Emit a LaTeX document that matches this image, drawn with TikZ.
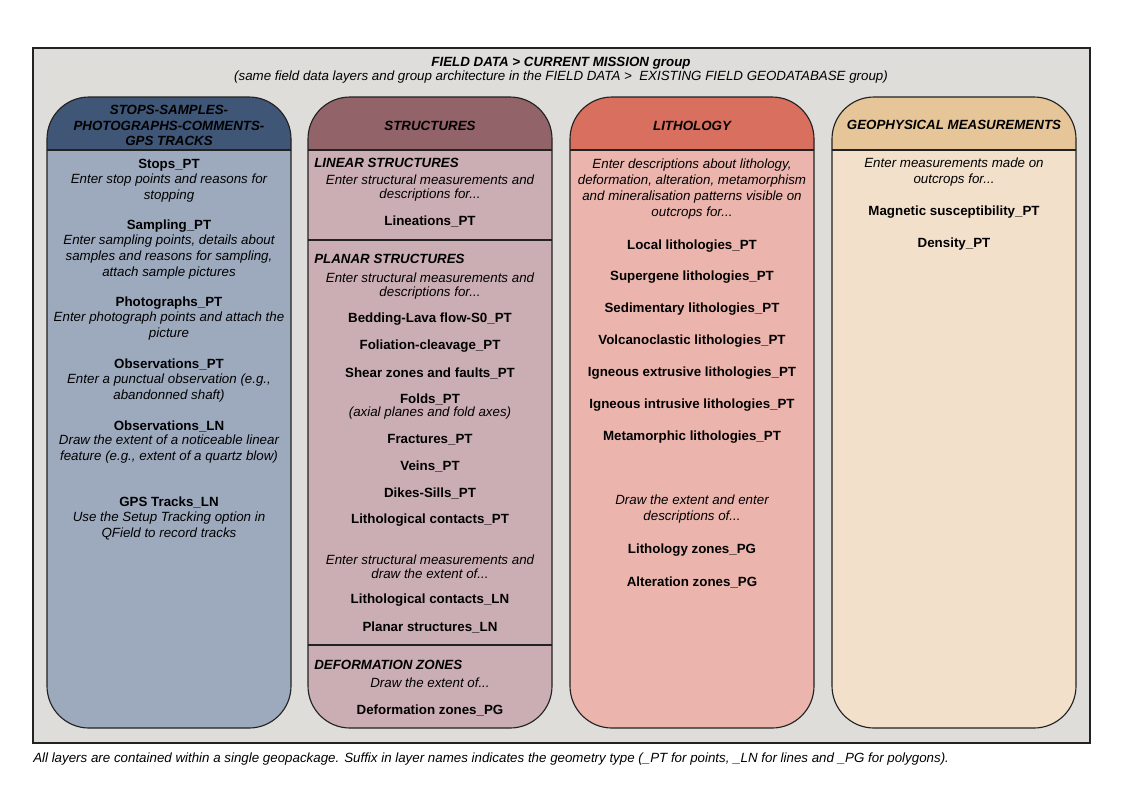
\documentclass[tikz,border=0pt]{standalone}
\usepackage{fontspec}
\setmainfont{Liberation Sans}
\usetikzlibrary{positioning}
\definecolor{bgGray}{HTML}{DEDDDA}
\definecolor{stopsHead}{HTML}{3F5677}
\definecolor{stopsBody}{HTML}{9DAABE}
\definecolor{strucHead}{HTML}{93636A}
\definecolor{strucBody}{HTML}{CBAEB3}
\definecolor{lithoHead}{HTML}{D96F5F}
\definecolor{lithoBody}{HTML}{EBB5AD}
\definecolor{geophHead}{HTML}{E6C598}
\definecolor{geophBody}{HTML}{F3E0CB}
\definecolor{lineDark}{HTML}{222222}

\begin{document}
\begin{tikzpicture}[
    x=0.75pt, y=-0.75pt,
    every node/.append style={yshift=-1.5pt},
    layer/.style={font=\fontsize{10}{12}\selectfont\bfseries, inner sep=0pt},
    desc/.style={font=\fontsize{10}{12}\selectfont\itshape, align=center, inner sep=0pt},
    desctight/.style={font=\fontsize{10}{10.3}\selectfont\itshape, align=center, inner sep=0pt},
    head/.style={font=\fontsize{10}{11.4}\selectfont\bfseries\itshape, align=center, inner sep=0pt},
    sect/.style={font=\fontsize{10}{12}\selectfont\bfseries\itshape, anchor=west, inner sep=0pt},
    colframe/.style={draw=lineDark, line width=0.85pt, rounded corners=31.5pt},
]
\useasboundingbox (0,0) rectangle (1123,794);

% outer frame
\draw[fill=bgGray, draw=lineDark, line width=0.8pt] (33,48) rectangle (1090,743);
\node[font=\fontsize{10}{10.5}\selectfont\bfseries\itshape, inner sep=0pt] (title) at (561,61)
    {FIELD DATA > CURRENT MISSION group};
\node[font=\fontsize{10}{10.5}\selectfont\itshape, inner sep=0pt] (subtitle) at (561,75)
    {(same field data layers and group architecture in the FIELD DATA >\ \ EXISTING FIELD GEODATABASE group)};

% four columns
\foreach \xa/\hc/\bc in {47/stopsHead/stopsBody, 308/strucHead/strucBody,
                         570/lithoHead/lithoBody, 832/geophHead/geophBody} {
  \fill[\bc, rounded corners=31.5pt] (\xa,97) rectangle (\xa+244,728);
  \begin{scope}
    \clip (\xa,90) rectangle (\xa+244,150);
    \fill[\hc, rounded corners=31.5pt] (\xa,97) rectangle (\xa+244,728);
  \end{scope}
  \draw[lineDark, line width=0.85pt] (\xa,150) -- (\xa+244,150);
  \draw[colframe] (\xa,97) rectangle (\xa+244,728);
}
% structures separators
\draw[lineDark, line width=0.85pt] (308,240) -- (552,240);
\draw[lineDark, line width=0.85pt] (308,645) -- (552,645);

% stops-samples column
\node[head] (stopsTitle) at (169,123.5) {STOPS-SAMPLES-\\PHOTOGRAPHS-COMMENTS-\\GPS TRACKS};
\node[layer] (stopsPT) at (169,163) {Stops\_PT};
\node[desc] (stopsDesc) at (169,186) {Enter stop points and reasons for\\stopping};
\node[layer] (samplingPT) at (169,224) {Sampling\_PT};
\node[desc] (samplingDesc) at (169,255) {Enter sampling points, details about\\samples and reasons for sampling,\\attach sample pictures};
\node[layer] (photoPT) at (169,301) {Photographs\_PT};
\node[desc] (photoDesc) at (169,324) {Enter photograph points and attach the\\picture};
\node[layer] (obsPT) at (169,362) {Observations\_PT};
\node[desc] (obsPTDesc) at (169,386) {Enter a punctual observation (e.g.,\\abandonned shaft)};
\node[layer] (obsLN) at (169,424) {Observations\_LN};
\node[desc] (obsLNDesc) at (169,447) {Draw the extent of a noticeable linear\\feature (e.g., extent of a quartz blow)};
\node[layer] (gpsLN) at (169,500) {GPS Tracks\_LN};
\node[desc] (gpsDesc) at (169,524) {Use the Setup Tracking option in\\QField to record tracks};

% structures column
\node[head] (strucTitle) at (430,124) {STRUCTURES};
\node[sect] (linearSect) at (314,161) {LINEAR STRUCTURES};
\node[desctight] (linearDesc) at (430,186) {Enter structural measurements and\\descriptions for...};
\node[layer] (lineationsPT) at (430,219) {Lineations\_PT};
\node[sect] (planarSect) at (314,257) {PLANAR STRUCTURES};
\node[desctight] (planarDesc) at (430,284) {Enter structural measurements and\\descriptions for...};
\node[layer] (beddingPT) at (430,317) {Bedding-Lava flow-S0\_PT};
\node[layer] (foliationPT) at (430,344) {Foliation-cleavage\_PT};
\node[layer] (shearPT) at (430,371) {Shear zones and faults\_PT};
\node[layer] (foldsPT) at (430,397) {Folds\_PT};
\node[desc] (foldsDesc) at (430,411) {(axial planes and fold axes)};
\node[layer] (fracturesPT) at (430,438) {Fractures\_PT};
\node[layer] (veinsPT) at (430,464) {Veins\_PT};
\node[layer] (dikesPT) at (430,491) {Dikes-Sills\_PT};
\node[layer] (contactsPT) at (430,518) {Lithological contacts\_PT};
\node[desctight] (planarLNDesc) at (430,565) {Enter structural measurements and\\draw the extent of...};
\node[layer] (contactsLN) at (430,598) {Lithological contacts\_LN};
\node[layer] (planarLN) at (430,625) {Planar structures\_LN};
\node[sect] (deformSect) at (314,663) {DEFORMATION ZONES};
\node[desc] (deformDesc) at (430,681) {Draw the extent of...};
\node[layer] (deformPG) at (430,708) {Deformation zones\_PG};

% lithology column
\node[head] (lithoTitle) at (692,124) {LITHOLOGY};
\node[desc] (lithoDesc) at (692,187) {Enter descriptions about lithology,\\deformation, alteration, metamorphism\\and mineralisation patterns visible on\\outcrops for...};
\node[layer] (localPT) at (692,244) {Local lithologies\_PT};
\node[layer] (supergenePT) at (692,275) {Supergene lithologies\_PT};
\node[layer] (sedimPT) at (692,307) {Sedimentary lithologies\_PT};
\node[layer] (volcanoPT) at (692,339) {Volcanoclastic lithologies\_PT};
\node[layer] (extrusivePT) at (692,371) {Igneous extrusive lithologies\_PT};
\node[layer] (intrusivePT) at (692,403) {Igneous intrusive lithologies\_PT};
\node[layer] (metamPT) at (692,435) {Metamorphic lithologies\_PT};
\node[desc] (zonesDesc) at (692,507) {Draw the extent and enter\\descriptions of...};
\node[layer] (lithoPG) at (692,548) {Lithology zones\_PG};
\node[layer] (alterPG) at (692,580) {Alteration zones\_PG};

% geophysics column
\node[head] (geophTitle) at (954,123) {GEOPHYSICAL MEASUREMENTS};
\node[desc] (geophDesc) at (954,170) {Enter measurements made on\\outcrops for...};
\node[layer] (magsusPT) at (954,210) {Magnetic susceptibility\_PT};
\node[layer] (densityPT) at (954,242) {Density\_PT};

% footnote
\node[font=\fontsize{10}{12}\selectfont\itshape, anchor=west, inner sep=0pt] (footnote) at (33,757)
    {All layers are contained within a single geopackage. Suffix in layer names indicates the geometry type (\_PT for points, \_LN for lines and \_PG for polygons).};
\end{tikzpicture}
\end{document}
